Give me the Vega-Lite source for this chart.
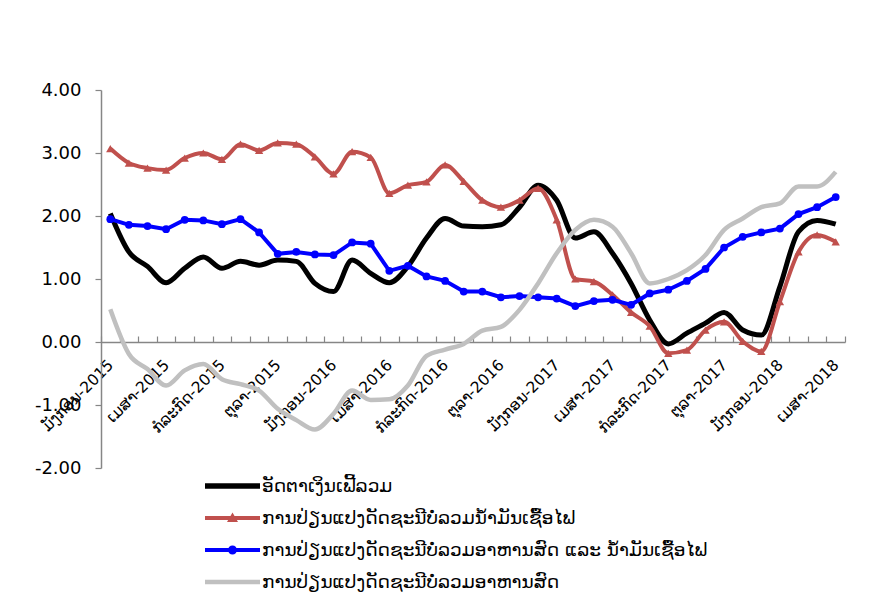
{
  "$schema": "https://vega.github.io/schema/vega-lite/v6.json",
  "width": 744,
  "height": 378,
  "autosize": {"type": "none"},
  "padding": {"left": 101, "top": 90, "right": 48, "bottom": 126},
  "background": "white",
  "config": {
    "font": "DejaVu Sans",
    "view": {"stroke": null},
    "axis": {"grid": false}
  },
  "data": {
    "values": [
      {"m": "ມັງກອນ-2015", "a": 2.04, "b": 3.07, "c": 1.95, "d": 0.52},
      {"m": "ກຸມພາ-2015", "a": 1.43, "b": 2.84, "c": 1.86, "d": -0.19},
      {"m": "ມີນາ-2015", "a": 1.20, "b": 2.76, "c": 1.84, "d": -0.43},
      {"m": "ເມສາ-2015", "a": 0.94, "b": 2.73, "c": 1.79, "d": -0.69},
      {"m": "ພຶດສະພາ-2015", "a": 1.17, "b": 2.92, "c": 1.94, "d": -0.45},
      {"m": "ມິຖຸນາ-2015", "a": 1.35, "b": 3.00, "c": 1.93, "d": -0.35},
      {"m": "ກໍລະກົດ-2015", "a": 1.17, "b": 2.90, "c": 1.87, "d": -0.59},
      {"m": "ສິງຫາ-2015", "a": 1.28, "b": 3.14, "c": 1.95, "d": -0.67},
      {"m": "ກັນຍາ-2015", "a": 1.22, "b": 3.04, "c": 1.74, "d": -0.77},
      {"m": "ຕຸລາ-2015", "a": 1.30, "b": 3.16, "c": 1.40, "d": -1.06},
      {"m": "ພະຈິກ-2015", "a": 1.28, "b": 3.14, "c": 1.43, "d": -1.24},
      {"m": "ທັນວາ-2015", "a": 0.93, "b": 2.94, "c": 1.39, "d": -1.39},
      {"m": "ມັງກອນ-2016", "a": 0.80, "b": 2.67, "c": 1.38, "d": -1.14},
      {"m": "ກຸມພາ-2016", "a": 1.30, "b": 3.02, "c": 1.58, "d": -0.77},
      {"m": "ມີນາ-2016", "a": 1.09, "b": 2.93, "c": 1.56, "d": -0.92},
      {"m": "ເມສາ-2016", "a": 0.94, "b": 2.36, "c": 1.13, "d": -0.91},
      {"m": "ພຶດສະພາ-2016", "a": 1.20, "b": 2.49, "c": 1.21, "d": -0.69},
      {"m": "ມິຖຸນາ-2016", "a": 1.65, "b": 2.54, "c": 1.04, "d": -0.22},
      {"m": "ກໍລະກົດ-2016", "a": 1.96, "b": 2.81, "c": 0.97, "d": -0.12},
      {"m": "ສິງຫາ-2016", "a": 1.84, "b": 2.55, "c": 0.80, "d": -0.03},
      {"m": "ກັນຍາ-2016", "a": 1.83, "b": 2.25, "c": 0.80, "d": 0.18},
      {"m": "ຕຸລາ-2016", "a": 1.86, "b": 2.14, "c": 0.71, "d": 0.24},
      {"m": "ພະຈິກ-2016", "a": 2.14, "b": 2.25, "c": 0.73, "d": 0.51},
      {"m": "ທັນວາ-2016", "a": 2.49, "b": 2.44, "c": 0.71, "d": 0.93},
      {"m": "ມັງກອນ-2017", "a": 2.25, "b": 1.94, "c": 0.69, "d": 1.41},
      {"m": "ກຸມພາ-2017", "a": 1.65, "b": 1.00, "c": 0.57, "d": 1.78},
      {"m": "ມີນາ-2017", "a": 1.75, "b": 0.96, "c": 0.65, "d": 1.94},
      {"m": "ເມສາ-2017", "a": 1.41, "b": 0.75, "c": 0.67, "d": 1.83},
      {"m": "ພຶດສະພາ-2017", "a": 0.93, "b": 0.47, "c": 0.59, "d": 1.41},
      {"m": "ມິຖຸນາ-2017", "a": 0.35, "b": 0.25, "c": 0.77, "d": 0.93},
      {"m": "ກໍລະກົດ-2017", "a": -0.03, "b": -0.18, "c": 0.83, "d": 1.00},
      {"m": "ສິງຫາ-2017", "a": 0.14, "b": -0.13, "c": 0.97, "d": 1.14},
      {"m": "ກັນຍາ-2017", "a": 0.30, "b": 0.19, "c": 1.16, "d": 1.38},
      {"m": "ຕຸລາ-2017", "a": 0.47, "b": 0.32, "c": 1.50, "d": 1.78},
      {"m": "ພະຈິກ-2017", "a": 0.19, "b": 0.01, "c": 1.67, "d": 1.96},
      {"m": "ທັນວາ-2017", "a": 0.11, "b": -0.15, "c": 1.74, "d": 2.14},
      {"m": "ມັງກອນ-2018", "a": 0.88, "b": 0.64, "c": 1.80, "d": 2.20},
      {"m": "ກຸມພາ-2018", "a": 1.75, "b": 1.43, "c": 2.03, "d": 2.47},
      {"m": "ມີນາ-2018", "a": 1.93, "b": 1.70, "c": 2.14, "d": 2.47},
      {"m": "ເມສາ-2018", "a": 1.87, "b": 1.59, "c": 2.30, "d": 2.70}
    ]
  },
  "encoding": {
    "x": {
      "field": "m",
      "type": "ordinal",
      "sort": null,
      "bandPosition": 0.5,
      "scale": {"type": "band", "paddingInner": 0, "paddingOuter": 0},
      "axis": {
        "title": null,
        "orient": "bottom",
        "offset": -126,
        "domainColor": "#868686",
        "domainWidth": 1.5,
        "tickColor": "#868686",
        "tickWidth": 1.2,
        "tickSize": -6,
        "tickBand": "extent",
        "labelAngle": -45,
        "labelAlign": "right",
        "labelBaseline": "middle",
        "labelPadding": 26,
        "labelFontSize": 15.5,
        "labelColor": "#000000",
        "labelOverlap": false,
        "labelExpr": "test(/^(ມັງກອນ|ເມສາ|ກໍລະກົດ|ຕຸລາ)-/, datum.value) ? datum.value : ''"
      }
    }
  },
  "layer": [
    {
      "mark": {"type": "line", "interpolate": "monotone", "strokeWidth": 5},
      "encoding": {
        "y": {
          "field": "a",
          "type": "quantitative",
          "scale": {"domain": [-2, 4], "nice": false, "zero": false},
          "axis": {
            "title": null,
            "values": [-2, -1, 0, 1, 2, 3, 4],
            "labelExpr": "replace(format(datum.value, '.2f'), '\u2212', '-')",
            "domainColor": "#868686",
            "domainWidth": 1.5,
            "tickColor": "#868686",
            "tickWidth": 1.2,
            "tickSize": 6,
            "labelPadding": 14,
            "labelFontSize": 18,
            "labelColor": "#000000"
          }
        },
        "color": {
          "datum": "ອັດຕາເງິນເຟີ້ລວມ",
          "type": "nominal",
          "scale": {
            "domain": [
              "ອັດຕາເງິນເຟີ້ລວມ",
              "ການປ່ຽນແປງດັດຊະນີບໍ່ລວມນ້ຳມັນເຊື້ອໄຟ",
              "ການປ່ຽນແປງດັດຊະນີບໍ່ລວມອາຫານສົດ ແລະ ນ້ຳມັນເຊື້ອໄຟ",
              "ການປ່ຽນແປງດັດຊະນີບໍ່ລວມອາຫານສົດ"
            ],
            "range": ["#000000", "#C0504D", "#0000FF", "#C0C0C0"]
          },
          "legend": {
            "title": null,
            "orient": "none",
            "legendX": 104,
            "legendY": 386,
            "direction": "vertical",
            "padding": 0,
            "symbolSize": 400,
            "rowPadding": 12,
            "labelOffset": 37,
            "labelFontSize": 18.5,
            "labelColor": "#000000",
            "labelLimit": 700,
            "encode": {
              "symbols": {
                "update": {
                  "shape": {"signal": "['M-1,-0.27H4.5V0.27H-1Z', 'M-1,-0.2H4.5V0.2H-1Z M1.75,-0.55L2.3,0.4H1.2Z', 'M-1,-0.2H4.5V0.2H-1Z M1.3,0A0.45,0.45,0,1,1,2.2,0A0.45,0.45,0,1,1,1.3,0Z', 'M-1,-0.22H4.5V0.22H-1Z'][datum.index]"},
                  "fill": {"scale": "color", "field": "value"},
                  "fillOpacity": {"value": 1},
                  "strokeWidth": {"value": 0},
                  "opacity": {"value": 1}
                }
              }
            }
          }
        }
      }
    },
    {
      "mark": {"type": "line", "interpolate": "monotone", "strokeWidth": 4},
      "encoding": {
        "y": {"field": "b", "type": "quantitative"},
        "color": {"datum": "ການປ່ຽນແປງດັດຊະນີບໍ່ລວມນ້ຳມັນເຊື້ອໄຟ", "type": "nominal"}
      }
    },
    {
      "mark": {"type": "point", "shape": "triangle-up", "filled": true, "size": 70, "opacity": 1, "color": "#C0504D"},
      "encoding": {
        "y": {"field": "b", "type": "quantitative"}
      }
    },
    {
      "mark": {"type": "line", "interpolate": "linear", "strokeWidth": 4},
      "encoding": {
        "y": {"field": "c", "type": "quantitative"},
        "color": {"datum": "ການປ່ຽນແປງດັດຊະນີບໍ່ລວມອາຫານສົດ ແລະ ນ້ຳມັນເຊື້ອໄຟ", "type": "nominal"}
      }
    },
    {
      "mark": {"type": "point", "shape": "circle", "filled": true, "size": 60, "opacity": 1, "color": "#0000FF"},
      "encoding": {
        "y": {"field": "c", "type": "quantitative"}
      }
    },
    {
      "mark": {"type": "line", "interpolate": "monotone", "strokeWidth": 4.5},
      "encoding": {
        "y": {"field": "d", "type": "quantitative"},
        "color": {"datum": "ການປ່ຽນແປງດັດຊະນີບໍ່ລວມອາຫານສົດ", "type": "nominal"}
      }
    }
  ]
}
